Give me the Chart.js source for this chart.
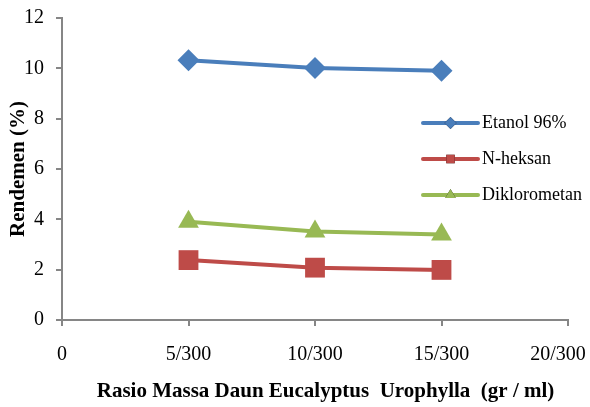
<!DOCTYPE html>
<html>
<head>
<meta charset="utf-8">
<script src="https://cdn.jsdelivr.net/npm/chart.js@4/dist/chart.umd.min.js"></script>
<style>
  body { margin: 0; background: #fff; }
  #wrap { width: 590px; height: 407px; }
</style>
</head>
<body>
<div id="wrap"><canvas id="rendemenChart" width="590" height="407"></canvas></div>
<script>
// Data
const xTickLabels = ['0', '5/300', '10/300', '15/300', '20/300'];
const xPositions = [1, 2, 3];
const etanol = [10.32, 10.01, 9.9];
const nHeksan = [2.38, 2.08, 1.99];
const dikloro = [3.9, 3.52, 3.4];
const seriesNames = ['Etanol 96%', 'N-heksan', 'Diklorometan'];

const axisGrey = '#868686';
const serif = "'Liberation Serif', 'Times New Roman', serif";

function toPoints(vals) {
    return vals.map((v, i) => ({ x: xPositions[i], y: v }));
}

// Legend drawn inside the plot area, like the original
const insideLegend = {
    id: 'insideLegend',
    afterDraw(chart) {
        const ctx = chart.ctx;
        const x0 = 423, x1 = 478, top = 123, gap = 36;
        chart.data.datasets.forEach((ds, i) => {
            const y = top + i * gap;
            ctx.save();
            ctx.strokeStyle = ds.borderColor;
            ctx.lineWidth = 4;
            ctx.lineCap = 'round';
            ctx.beginPath();
            ctx.moveTo(x0, y);
            ctx.lineTo(x1, y);
            ctx.stroke();
            Chart.helpers.drawPoint(ctx, {
                pointStyle: ds.pointStyle, radius: 6, borderWidth: 0
            }, (x0 + x1) / 2, y);
            ctx.fillStyle = ds.backgroundColor;
            ctx.fill();
            ctx.fillStyle = '#000';
            ctx.font = '18px ' + serif;
            ctx.textBaseline = 'middle';
            ctx.fillText(ds.label, x1 + 4, y);
            ctx.restore();
        });
    }
};

new Chart(document.getElementById('rendemenChart'), {
    type: 'line',
    data: {
        datasets: [
            { label: seriesNames[0], data: toPoints(etanol), borderColor: '#4A7EBB', backgroundColor: '#4A7EBB', pointStyle: 'rectRot', pointRadius: 11 },
            { label: seriesNames[1], data: toPoints(nHeksan), borderColor: '#BE4B48', backgroundColor: '#BE4B48', pointStyle: 'rect', pointRadius: 14 },
            { label: seriesNames[2], data: toPoints(dikloro), borderColor: '#98B954', backgroundColor: '#98B954', pointStyle: 'triangle', pointRadius: 12 }
        ]
    },
    options: {
        responsive: false,
        animation: false,
        layout: { padding: { left: 0, right: 22, top: 18, bottom: 0 } },
        elements: {
            line: { borderWidth: 4, tension: 0 },
            point: { borderWidth: 0, hoverRadius: 11 }
        },
        scales: {
            x: {
                type: 'linear', min: 0, max: 4,
                afterFit: s => { s.height = 87; s.paddingLeft = 0; s.paddingRight = 0; },
                ticks: {
                    stepSize: 1, color: '#000', padding: 17,
                    font: { family: serif, size: 20 },
                    // last label nudged left so it stays on the canvas
                    callback: v => v === 4 ? xTickLabels[v] + '    ' : xTickLabels[v]
                },
                grid: { drawOnChartArea: false, drawTicks: true, tickLength: 6, color: axisGrey, lineWidth: 2 },
                border: { color: axisGrey, width: 2 },
                title: {
                    display: true, text: '    Rasio Massa Daun Eucalyptus  Urophylla  (gr / ml)',
                    color: '#000', font: { family: serif, size: 21, weight: 'bold' },
                    padding: { top: 0, bottom: 3 }
                }
            },
            y: {
                min: 0, max: 12,
                afterFit: s => { s.width = 62; s.paddingTop = 0; s.paddingBottom = 0; },
                ticks: {
                    stepSize: 2, color: '#000', padding: 12,
                    font: { family: serif, size: 20 }
                },
                grid: { drawOnChartArea: false, drawTicks: true, tickLength: 6, color: axisGrey, lineWidth: 2 },
                border: { color: axisGrey, width: 2 },
                title: {
                    display: true, text: 'Rendemen (%)',
                    color: '#000', font: { family: serif, size: 21, weight: 'bold' },
                    padding: { top: 6, bottom: 0 }
                }
            }
        },
        plugins: {
            legend: { display: false },
            tooltip: { enabled: false }
        }
    },
    plugins: [insideLegend]
});
</script>
</body>
</html>
